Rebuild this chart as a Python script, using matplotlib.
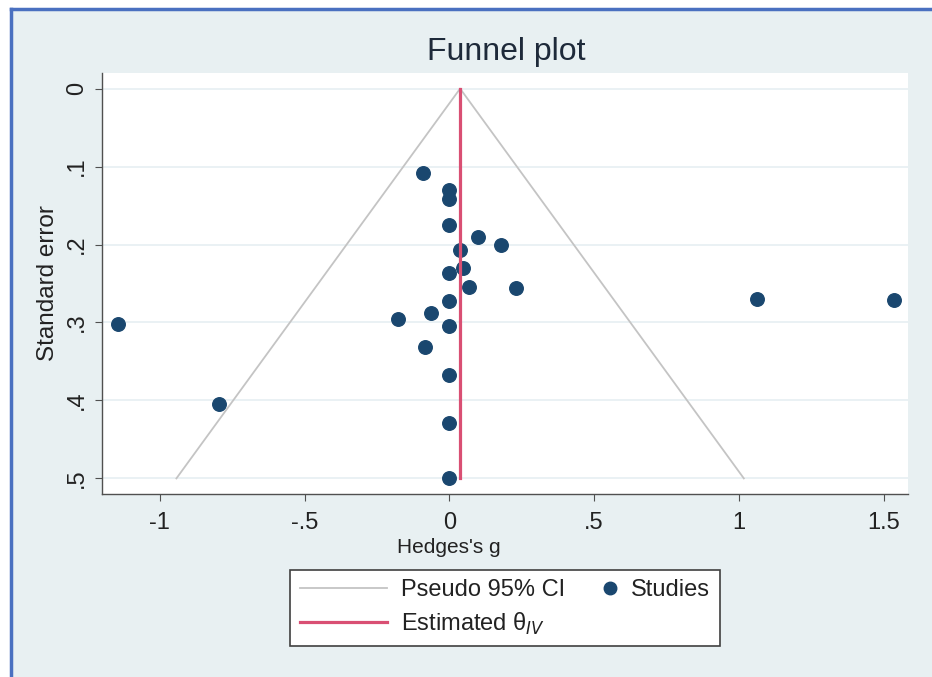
import matplotlib.pyplot as plt
from matplotlib.lines import Line2D
from matplotlib.patches import Rectangle

plt.rcParams['font.family'] = ['Liberation Sans', 'DejaVu Sans']

# study estimates
hedges_g = [-0.09, 0.0, 0.0, 0.0, 0.099, 0.178, 0.037, 0.046, 0.0, 0.068, 0.229, 0.0,
            1.061, 1.535, -1.146, -0.179, -0.064, 0.0, -0.085, 0.0, -0.795, 0.0, 0.0]
std_err = [0.108, 0.130, 0.142, 0.175, 0.190, 0.200, 0.207, 0.230, 0.237, 0.255, 0.256, 0.272,
           0.270, 0.271, 0.302, 0.295, 0.288, 0.304, 0.332, 0.368, 0.405, 0.429, 0.500]
theta_iv = 0.037
se_max = 0.5
z95 = 1.96

x_ticks = [-1, -0.5, 0, 0.5, 1, 1.5]
x_labels = ['-1', '-.5', '0', '.5', '1', '1.5']
y_ticks = [0, 0.1, 0.2, 0.3, 0.4, 0.5]
y_labels = ['0', '.1', '.2', '.3', '.4', '.5']

bg = '#e8f0f2'
navy = '#1a476f'
red = '#d94f73'
grey = '#c4c4c4'
txt = '#222222'


class RightDot:
    # marker sits at the right end of the legend handle, like Stata draws it
    def legend_artist(self, legend, orig_handle, fontsize, handlebox):
        w, h = handlebox.width, handlebox.height
        dot = Line2D([w - 0.3 * fontsize], [h / 2 - handlebox.ydescent], marker='o', ls='none',
                     color=navy, markersize=9, transform=handlebox.get_transform())
        handlebox.add_artist(dot)
        return dot


fig = plt.figure(figsize=(9.32, 6.77), dpi=100)
fig.patch.set_facecolor('white')
# screenshot frame
fig.add_artist(Rectangle((11 / 932, 0), 1, 1 - 9 / 677, transform=fig.transFigure,
                         facecolor=bg, edgecolor='none', zorder=-2))
fig.add_artist(Line2D([11 / 932, 1], [1 - 9 / 677] * 2, transform=fig.transFigure,
                      color='#4a70c0', lw=2.5))
fig.add_artist(Line2D([11 / 932] * 2, [0, 1 - 9 / 677], transform=fig.transFigure,
                      color='#4a70c0', lw=2.5))

ax = fig.add_axes([102 / 932, 1 - 494 / 677, 806 / 932, 421 / 677])
ax.set_facecolor('white')

ax.scatter(hedges_g, std_err, s=95, color=navy, zorder=3, label='Studies')
ci, = ax.plot([theta_iv - z95 * se_max, theta_iv, theta_iv + z95 * se_max], [se_max, 0, se_max],
              color=grey, lw=1.3, zorder=4, label='Pseudo 95% CI')
est, = ax.plot([theta_iv, theta_iv], [0, se_max], color=red, lw=2.3, zorder=5,
               label=r'Estimated θ$_{IV}$')

ax.set_xlim(-1.2, 1.584)
ax.set_ylim(0.52, -0.02)
ax.set_xticks(x_ticks, x_labels)
ax.set_yticks(y_ticks, y_labels)
ax.grid(axis='y', color='#e6eff2', lw=1.2, zorder=0)
for side in ['top', 'right']:
    ax.spines[side].set_visible(False)
for side in ['left', 'bottom']:
    ax.spines[side].set_color('#505050')
    ax.spines[side].set_linewidth(1.0)
ax.tick_params(axis='both', colors='#505050', labelcolor=txt, length=5)
ax.tick_params(axis='x', labelsize=17, pad=8)
ax.tick_params(axis='y', labelsize=17, labelrotation=90, pad=5)
for lab in ax.get_yticklabels():
    lab.set_va('center')

ax.set_xlabel("Hedges's g", fontsize=15, color=txt)
ax.xaxis.set_label_coords((449 - 102) / 806, (494 - 538) / 421)
ax.set_ylabel('Standard error', fontsize=17.5, color=txt, labelpad=5)
fig.text(0.543, 1 - 52 / 677, 'Funnel plot', ha='center', va='center', fontsize=23,
         color='#1e2a3a')

sc = Line2D([], [], marker='o', ls='none', color=navy)
leg = fig.legend([ci, est, sc], ['Pseudo 95% CI', r'Estimated θ$_{IV}$', 'Studies'],
                 loc='center', bbox_to_anchor=(505 / 932, 1 - 608 / 677), ncol=2,
                 handler_map={sc: RightDot()},
                 fontsize=17, frameon=True, fancybox=False,
                 framealpha=1, handlelength=3.7, handletextpad=0.6,
                 columnspacing=-1.5, borderpad=0.4, labelspacing=0.38)
leg.get_frame().set_edgecolor('#404040')
leg.get_frame().set_linewidth(1.2)
for t in leg.get_texts():
    t.set_color(txt)

fig.savefig('out.png', dpi=100)
